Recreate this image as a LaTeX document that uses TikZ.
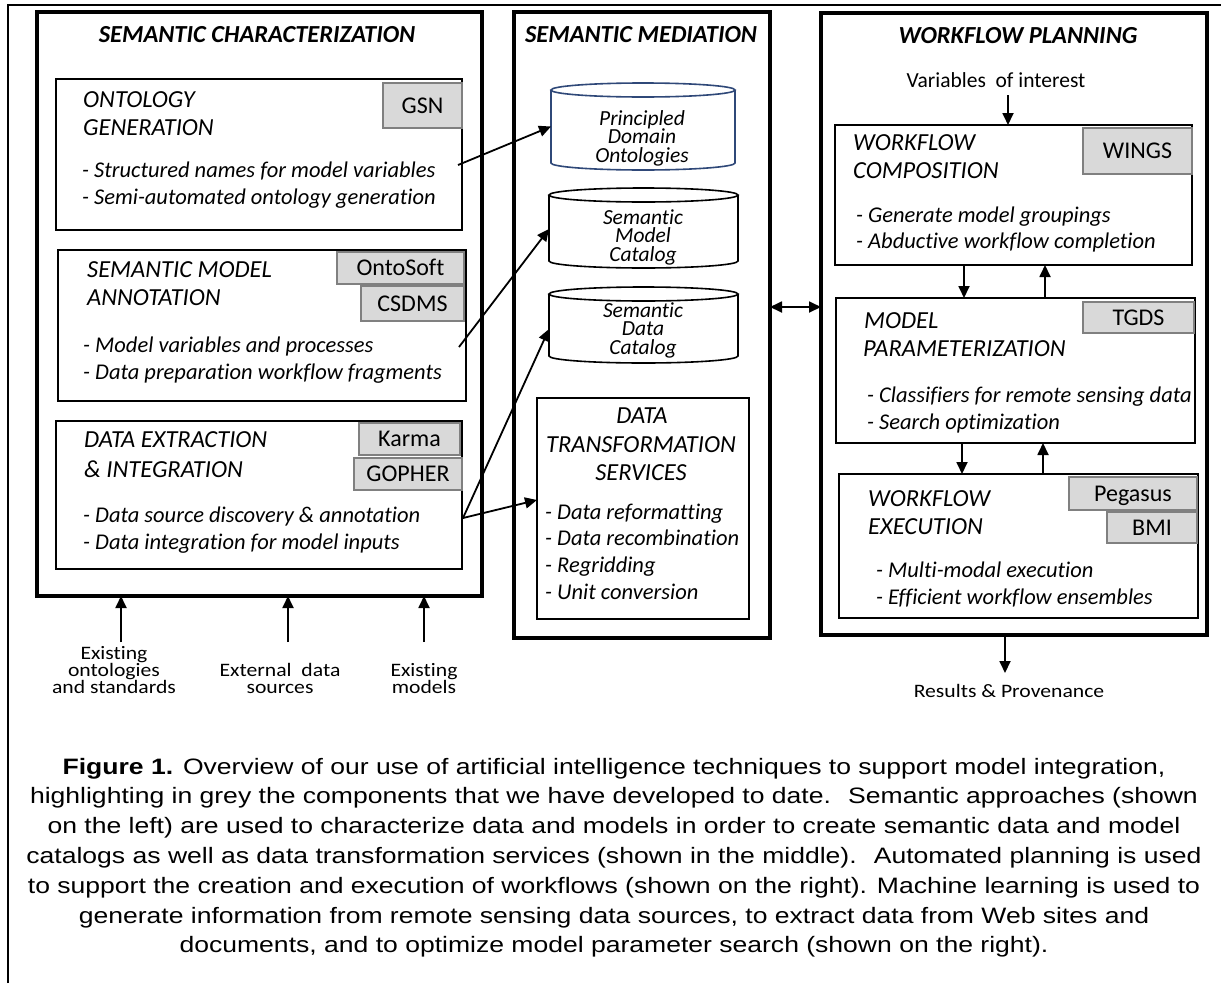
\documentclass[tikz,border=0pt]{standalone}
\usepackage{fontspec}
\setmainfont{Carlito}[Ligatures={NoCommon,TeX}]
\newfontfamily\capfont[FakeStretch=1.19]{Liberation Sans}
\newfontfamily\lblfont[FakeStretch=1.14,Ligatures={NoCommon,TeX}]{Carlito}
\usetikzlibrary{arrows.meta}
\definecolor{tagfill}{RGB}{217,217,217}
\definecolor{tagdraw}{RGB}{128,128,128}
\definecolor{cylblue}{RGB}{47,72,120}
\newcommand\MkBx[6]{\node[#6, minimum width={#4pt-#2pt}, minimum height={#5pt-#3pt}] (#1) at (#2,#3) {};}
\newcommand\MkTag[6]{\node[tagbox, minimum width={#4pt-#2pt}, minimum height={#5pt-#3pt}] (#1) at (#2,#3) {#6};}
\newcommand\MkCyl[6]{%
  \pgfmathsetmacro\cylcx{(#2+#4)/2}%
  \pgfmathsetmacro\cylrx{(#4-#2)/2}%
  \fill[white] (#2,#3+7) -- (#2,#5-7) arc[start angle=180, end angle=360, x radius=\cylrx pt, y radius=7pt] -- (#4,#3+7) -- cycle;
  \draw[draw=#6, line width=1.6pt] (#2,#3+7) -- (#2,#5-7) arc[start angle=180, end angle=360, x radius=\cylrx pt, y radius=7pt] -- (#4,#3+7);
  \draw[draw=#6, fill=white, line width=1.6pt] (\cylcx,#3+7) ellipse [x radius=\cylrx pt, y radius=7pt];
  \node[inner sep=0, outer sep=0, anchor=north west, minimum width={#4pt-#2pt}, minimum height={#5pt-#3pt}] (#1) at (#2,#3) {};
}
\begin{document}
\begin{tikzpicture}[x=1pt,y=-1pt,
  bigbox/.style={draw, fill=white, line width=4pt, inner sep=0, outer sep=0, anchor=north west},
  inbox/.style={draw, fill=white, line width=2pt, inner sep=0, outer sep=0, anchor=north west},
  tagbox/.style={draw=tagdraw, fill=tagfill, line width=1.6pt, font=\fontsize{24}{26}\selectfont, inner sep=0, outer sep=0, anchor=north west, text height=15.3pt, text depth=0pt},
  ttl/.style={font=\fontsize{24.5}{28}\selectfont\bfseries\itshape, inner sep=0, anchor=base},
  hd/.style={font=\fontsize{24.5}{28}\selectfont\itshape, inner sep=0, anchor=base west},
  bl/.style={font=\fontsize{22.5}{27}\selectfont\itshape, inner sep=0, anchor=base west},
  dt/.style={font=\fontsize{24.5}{28}\selectfont\itshape, inner sep=0, anchor=base},
  cyt/.style={font=\fontsize{21.5}{18.5}\selectfont\itshape, inner sep=0, anchor=base},
  lbl/.style={font=\lblfont\fontsize{19}{17}\selectfont, inner sep=0, anchor=base},
  captxt/.style={font=\capfont\fontsize{22.3}{29.8}\selectfont, inner sep=0, anchor=base},
  arr/.style={line width=1.8pt, -{Triangle[length=12pt,width=11pt]}},
  darr/.style={line width=1.8pt, {Triangle[length=12pt,width=11pt]}-{Triangle[length=12pt,width=11pt]}}
]
\useasboundingbox (0,0) rectangle (1221,983);
\fill[white] (0,0) rectangle (1221,983);
\draw[line width=1.3pt] (8,983) -- (8,5) -- (1221,5);

% main columns
\MkBx{sc}{37}{12}{482}{596}{bigbox}
\MkBx{sm}{514}{12}{770}{638}{bigbox}
\MkBx{wp}{821}{13}{1207}{635}{bigbox}

% inner boxes
\MkBx{og}{56}{79}{462}{230}{inbox}
\MkBx{sma}{58}{250}{466}{401}{inbox}
\MkBx{de}{56}{421}{462}{569}{inbox}
\MkBx{dts}{537}{398}{749}{619}{inbox}
\MkBx{wc}{835}{125}{1192}{265}{inbox}
\MkBx{mp}{836}{298}{1195}{443}{inbox}
\MkBx{we}{839}{474}{1198}{618}{inbox}

% grey tags
\MkTag{gsn}{383}{83}{462}{128}{GSN}
\MkTag{onto}{337}{252}{464}{284}{OntoSoft}
\MkTag{csdms}{361}{286}{464}{321}{CSDMS}
\MkTag{karma}{359}{423}{460}{455}{Karma}
\MkTag{gopher}{354}{458}{462}{490}{GOPHER}
\MkTag{wings}{1083}{128}{1192}{174}{WINGS}
\MkTag{tgds}{1083}{302}{1194}{333}{TGDS}
\MkTag{pegasus}{1069}{477}{1197}{510}{Pegasus}
\MkTag{bmi}{1107}{512}{1197}{543}{BMI}

% cylinders
\MkCyl{pdo}{551}{83}{735}{170}{cylblue}
\MkCyl{smc}{549}{188}{738}{268}{black}
\MkCyl{sdc}{549}{287}{738}{363}{black}

% titles
\node[ttl] (t1) at (257,42) {SEMANTIC CHARACTERIZATION};
\node[ttl] (t2) at (641,42) {SEMANTIC MEDIATION};
\node[ttl] (t3) at (1018,43) {WORKFLOW PLANNING};

% left column text
\node[hd] (og1) at (83,107) {ONTOLOGY};
\node[hd] (og2) at (83,135) {GENERATION};
\node[bl] (og3) at (82,177) {- Structured names for model variables};
\node[bl] (og4) at (82,204) {- Semi-automated ontology generation};
\node[hd] (sma1) at (87,277) {SEMANTIC MODEL};
\node[hd] (sma2) at (87,305) {ANNOTATION};
\node[bl] (sma3) at (83,352) {- Model variables and processes};
\node[bl] (sma4) at (83,379) {- Data preparation workflow fragments};
\node[hd] (de1) at (84,447) {DATA EXTRACTION};
\node[hd] (de2) at (84,477) {\& INTEGRATION};
\node[bl] (de3) at (83,522) {- Data source discovery \& annotation};
\node[bl] (de4) at (83,549) {- Data integration for model inputs};

% middle column text
\node[cyt] (pdo1) at (642,125) {Principled};
\node[cyt] (pdo2) at (642,143) {Domain};
\node[cyt] (pdo3) at (642,162) {Ontologies};
\node[cyt] (smc1) at (643,224) {Semantic};
\node[cyt] (smc2) at (643,242) {Model};
\node[cyt] (smc3) at (643,261) {Catalog};
\node[cyt] (sdc1) at (643,317) {Semantic};
\node[cyt] (sdc2) at (643,335) {Data};
\node[cyt] (sdc3) at (643,354) {Catalog};
\node[dt] (dts1) at (642,423) {DATA};
\node[dt] (dts2) at (641,452) {TRANSFORMATION};
\node[dt] (dts3) at (641,480) {SERVICES};
\node[bl] (dts4) at (545,519) {- Data reformatting};
\node[bl] (dts5) at (545,545) {- Data recombination};
\node[bl] (dts6) at (545,572) {- Regridding};
\node[bl] (dts7) at (545,599) {- Unit conversion};

% right column text
\node[font=\fontsize{21.5}{24}\selectfont, inner sep=0, anchor=base] (voi) at (996,87) {Variables~ of interest};
\node[hd] (wc1) at (853,150) {WORKFLOW};
\node[hd] (wc2) at (853,178) {COMPOSITION};
\node[bl] (wc3) at (856,222) {- Generate model groupings};
\node[bl] (wc4) at (856,248) {- Abductive workflow completion};
\node[hd] (mp1) at (864,328) {MODEL};
\node[hd] (mp2) at (863,356) {PARAMETERIZATION};
\node[bl] (mp3) at (867,402) {- Classifiers for remote sensing data};
\node[bl] (mp4) at (867,429) {- Search optimization};
\node[hd] (we1) at (868,506) {WORKFLOW};
\node[hd] (we2) at (868,534) {EXECUTION};
\node[bl] (we3) at (876,577) {- Multi-modal execution};
\node[bl] (we4) at (876,604) {- Efficient workflow ensembles};

% bottom labels
\node[lbl] (in1a) at (114,659) {Existing};
\node[lbl] (in1b) at (114,676) {ontologies};
\node[lbl] (in1c) at (114,693) {and standards};
\node[lbl] (in2a) at (280,676) {External~ data};
\node[lbl] (in2b) at (280,693) {sources};
\node[lbl] (in3a) at (424,676) {Existing};
\node[lbl] (in3b) at (424,693) {models};
\node[lbl] (res) at (1009,697) {Results \& Provenance};

% connectors
\coordinate (ogout) at (458,165);
\coordinate (smaout) at (459,347);
\coordinate (deout) at (463,518);
\draw[arr] (ogout) -- (pdo.west);
\draw[arr] (smaout) -- ([yshift=-1pt]smc.west);
\draw[arr] (deout) -- ([yshift=-4pt]sdc.west);
\draw[arr] (deout) -- ([yshift=8.5pt]dts.west);
\draw[darr] ([yshift=18pt]sm.east) -- ([yshift=18pt]sm.east -| wp.west);

\coordinate (voiarr) at (1008,95);
\draw[arr] (voiarr) -- (voiarr |- wc.north);
\coordinate (xa) at (964,0);
\coordinate (xb) at (1045,0);
\coordinate (xc) at (962,0);
\coordinate (xd) at (1043,0);
\draw[arr] (wc.south -| xa) -- (mp.north -| xa);
\draw[arr] (mp.north -| xb) -- (wc.south -| xb);
\draw[arr] (mp.south -| xc) -- (we.north -| xc);
\draw[arr] (we.north -| xd) -- (mp.south -| xd);
\coordinate (resend) at (1005,673);
\draw[arr] (wp.south -| resend) -- (resend);

\coordinate (in1) at (121,642);
\coordinate (in2) at (288,642);
\coordinate (in3) at (424,642);
\draw[arr] (in1) -- (in1 |- sc.south);
\draw[arr] (in2) -- (in2 |- sc.south);
\draw[arr] (in3) -- (in3 |- sc.south);

% caption
\node[captxt] (c1) at (614,774) {{\bfseries Figure 1.} Overview of our use of artificial intelligence techniques to support model integration,};
\node[captxt] (c2) at (614,803.8) {highlighting in grey the components that we have developed to date.~ Semantic approaches (shown};
\node[captxt] (c3) at (614,833.6) {on the left) are used to characterize data and models in order to create semantic data and model};
\node[captxt] (c4) at (614,863.4) {catalogs as well as data transformation services (shown in the middle).~ Automated planning is used};
\node[captxt] (c5) at (614,893.2) {to support the creation and execution of workflows (shown on the right). Machine learning is used to};
\node[captxt] (c6) at (614,923) {generate information from remote sensing data sources, to extract data from Web sites and};
\node[captxt] (c7) at (614,952.8) {documents, and to optimize model parameter search (shown on the right).};
\end{tikzpicture}
\end{document}
